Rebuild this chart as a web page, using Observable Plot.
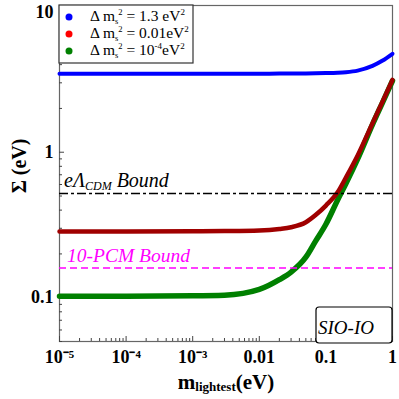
<!DOCTYPE html>
<html><head><meta charset="utf-8">
<script src="https://cdn.jsdelivr.net/npm/d3@7"></script>
<script src="https://cdn.jsdelivr.net/npm/@observablehq/plot@0.6"></script>
<style>body{margin:0;background:#fff} svg{display:block}</style>
</head><body><div id="chart"></div>
<script>
// lightest neutrino mass samples (eV)
const mLightest = [1e-5, 1e-4, 1e-3, 0.003, 0.01, 0.02, 0.03, 0.05, 0.07, 0.1, 0.15, 0.2, 0.3, 0.5, 0.7, 1];
// Σ (eV)
const sigmaBlue  = [3.46, 3.46, 3.46, 3.46, 3.46, 3.47, 3.47, 3.48, 3.49, 3.50, 3.52, 3.55, 3.64, 3.92, 4.25, 4.75];
const sigmaRed   = [0.285, 0.285, 0.286, 0.287, 0.290, 0.297, 0.305, 0.330, 0.370, 0.430, 0.530, 0.670, 0.950, 1.58, 2.20, 3.14];
const sigmaGreen = [0.1025, 0.1025, 0.103, 0.104, 0.114, 0.133, 0.150, 0.190, 0.245, 0.320, 0.470, 0.610, 0.900, 1.55, 2.17, 3.10];
const boundECDM = 0.52;
const boundPCM = 0.16;
const xMajorTicks = [1e-5, 1e-4, 1e-3, 0.01, 0.1, 1];
const xTickLabels = ["10⁻⁵", "10⁻⁴", "10⁻³", "0.01", "0.1", "1"];
const yMajorTicks = [0.1, 1, 10];
const yTickLabels = ["0.1", "1", "10"];

const xMinor = [];
for (const d of xMajorTicks.slice(0, -1)) for (let k = 2; k <= 9; k++) xMinor.push(d * k);
const yMinor = [];
for (const d of [0.01, 0.1, 1]) for (let k = 2; k <= 9; k++) { const v = d * k; if (v >= 0.05 && v <= 10.2) yMinor.push(v); }
const xLab = new Map(xMajorTicks.map((d, i) => [d, xTickLabels[i]]));
const yLab = new Map(yMajorTicks.map((d, i) => [d, yTickLabels[i]]));

const rows = (ys) => mLightest.map((m, i) => ({m, sigma: ys[i]}));

const plot = Plot.plot({
  width: 399, height: 399,
  marginLeft: 59, marginRight: 7, marginTop: 5, marginBottom: 58,
  style: {fontFamily: "Liberation Serif", background: "white", color: "black"},
  x: {type: "log", domain: [1e-5, 1], label: null},
  y: {type: "log", domain: [0.05, 10.2], label: null},
  marks: [
    Plot.frame({stroke: "#666", strokeWidth: 1.2}),
    Plot.axisX(xMinor, {tickSize: -3, tickFormat: () => "", stroke: "#444"}),
    Plot.axisX(xMajorTicks, {tickSize: -5, tickFormat: () => "", stroke: "#444"}),
    Plot.axisX(xMajorTicks, {tickSize: 0, tickPadding: 9, tickFormat: d => xLab.get(d), fontSize: 18, fontWeight: "bold"}),
    Plot.axisY(yMinor, {tickSize: -3, tickFormat: () => "", stroke: "#444"}),
    Plot.axisY(yMajorTicks, {tickSize: -5, tickFormat: () => "", stroke: "#444"}),
    Plot.axisY(yMajorTicks.slice(0, 2), {tickSize: 0, tickPadding: 6, tickFormat: d => yLab.get(d), fontSize: 18, fontWeight: "bold"}),
    Plot.axisY(yMajorTicks.slice(2), {tickSize: 0, tickPadding: 6, dy: 5, tickFormat: d => yLab.get(d), fontSize: 18, fontWeight: "bold"}),
    Plot.line(rows(sigmaGreen), {x: "m", y: "sigma", stroke: "#008000", strokeWidth: 5.5, curve: "monotone-x"}),
    Plot.line(rows(sigmaRed), {x: "m", y: "sigma", stroke: "#a00000", strokeWidth: 4.5, curve: "monotone-x"}),
    Plot.line(rows(sigmaBlue), {x: "m", y: "sigma", stroke: "#0000ff", strokeWidth: 4, curve: "monotone-x"}),
    Plot.ruleY([boundECDM], {stroke: "black", strokeWidth: 1.6, strokeDasharray: "9,3,3,3"}),
    Plot.ruleY([boundPCM], {stroke: "#ff00ff", strokeWidth: 1.7, strokeDasharray: "7,4"})
  ]
});
document.getElementById("chart").appendChild(plot);

const svg = d3.select(plot);
const ys = plot.scale("y");
const serif = "Liberation Serif";
const txt = (x, y) => svg.append("text").attr("x", x).attr("y", y).attr("text-anchor", "start")
  .attr("font-family", serif).attr("fill", "black");

// annotations
const a1 = txt(64, ys.apply(boundECDM) - 6).attr("font-style", "italic").attr("font-size", 20);
a1.append("tspan").text("eΛ");
a1.append("tspan").attr("font-size", 12).attr("dy", 3).text("CDM");
a1.append("tspan").attr("dy", -3).text(" Bound");
txt(67, ys.apply(boundPCM) - 6).attr("font-style", "italic").attr("font-size", 19.5).attr("fill", "#ff00ff")
  .text("10-PCM Bound");

// SIO-IO box
svg.append("rect").attr("x", 316).attr("y", 307).attr("width", 76).attr("height", 36).attr("rx", 3)
  .attr("fill", "white").attr("stroke", "black").attr("stroke-width", 1.2);
txt(318, 334).attr("font-style", "italic").attr("font-size", 19).text("SIO-IO");

// legend
const legendColors = ["#0000ff", "#ff0000", "#008000"];
const legendValues = [[" = 1.3 eV", null, "2"], [" = 0.01eV", null, "2"], [" = 10", "-4", "eV", "2"]];
svg.append("rect").attr("x", 59).attr("y", 5).attr("width", 134).attr("height", 58)
  .attr("fill", "white").attr("stroke", "#333").attr("stroke-width", 1.2);
legendColors.forEach((c, i) => {
  const y = 21 + i * 17;
  svg.append("circle").attr("cx", 69).attr("cy", y - 4).attr("r", 3.5).attr("fill", c);
  const t = txt(90, y).attr("font-size", 15.5);
  t.append("tspan").text("Δ m");
  t.append("tspan").attr("font-size", 8.5).attr("dy", 3).text("s");
  t.append("tspan").attr("font-size", 8.5).attr("dy", -9).text("2");
  const v = legendValues[i];
  if (v.length === 3) {
    t.append("tspan").attr("dy", 6).text(v[0]);
    t.append("tspan").attr("font-size", 9).attr("dy", -6).text(v[2]);
  } else {
    t.append("tspan").attr("dy", 6).text(v[0]);
    t.append("tspan").attr("font-size", 9).attr("dy", -6).text(v[1]);
    t.append("tspan").attr("dy", 6).text(v[2]);
    t.append("tspan").attr("font-size", 9).attr("dy", -6).text(v[3]);
  }
});

// axis titles
const xt = txt(226, 389).attr("text-anchor", "middle").attr("font-weight", "bold").attr("font-size", 21);
xt.append("tspan").text("m");
xt.append("tspan").attr("font-size", 13).attr("dy", 2).text("lightest");
xt.append("tspan").attr("dy", -2).text("(eV)");
svg.append("text").attr("transform", "translate(26,166) rotate(-90)").attr("text-anchor", "middle")
  .attr("font-family", serif).attr("font-weight", "bold").attr("font-size", 20).text("Σ (eV)");
</script>
</body></html>
